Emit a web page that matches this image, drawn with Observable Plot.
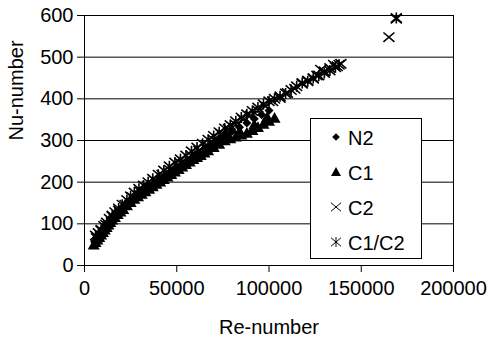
<!DOCTYPE html>
<html><head><meta charset="utf-8">
<script src="https://cdn.jsdelivr.net/npm/d3@7"></script>
<script src="https://cdn.jsdelivr.net/npm/@observablehq/plot@0.6"></script>
<style>
html,body{margin:0;padding:0;background:#fff;}
#chart{position:relative;width:491px;height:338px;}
</style>
</head><body><div id="chart"></div>
<script>
// ---- data ----
const xTicks = [0, 50000, 100000, 150000, 200000];
const yTicks = [0, 100, 200, 300, 400, 500, 600];
const xLabel = "Re-number";
const yLabel = "Nu-number";
const seriesNames = ["N2", "C1", "C2", "C1/C2"];

const n2Re = [5500,7000,8500,10000,12000,14000,16000,18000,20000,23000,26000,29000,32000,35000,38000,41000,44000,47000,50000,53000,56000,59000,62000,65000,68000,71000,74000,77000,80000,84000,88000,92000,96000,100000];
const n2Nu = [58,68,78,88,100,112,122,130,138,150,160,170,180,190,199,208,218,226,236,244,253,262,270,280,288,297,305,314,322,332,342,352,362,372];

const c1Re = [5000,6000,7000,8000,9000,10000,11000,12000,13000,14000,15000,16500,18000,19500,21000,23000,25000,27000,29000,31000,33000,35000,37000,39000,41000,43000,45000,47000,49000,51000,53000,55000,57000,59000,61000,63000,65000,67000,70000,73000,76000,79000,82000,85000,88000,91000,94000,97000,100000,103000,
              8500,13500,22000,30000,40000,50000,60000,68000,76000,84000,92000,99000];
const c1Nu = [50,56,62,68,74,80,86,92,98,104,110,116,123,129,135,144,152,160,166,172,178,184,190,196,201,207,213,219,225,231,237,243,249,255,260,265,271,276,284,292,300,305,309,314,318,325,332,340,347,354,
              80,106,146,176,206,234,264,288,312,322,338,356];

const c2Re = [6500,9000,11500,15000,18500,22000,26000,30000,34000,38000,42000,46000,52000,58000,62000,66000,70000,74000,78000,82000,86000,90000,94000,98000,102000,106000,110000,114000,118000,121000,124000,126000,128000,130000,133000,135000,137000,139000,165000,169000];
const c2Nu = [66,84,98,118,132,146,164,178,190,204,218,230,246,264,276,290,302,316,328,338,350,360,372,382,394,402,414,424,436,444,448,456,470,466,474,482,478,484,548,592];

const c12Re = [6000,7500,9000,10500,12000,13500,15000,16500,18500,20500,23000,25000,27000,29500,32000,34500,37000,40000,43000,46000,49000,52000,55000,58000,61000,64000,67000,70000,73000,76000,79000,82000,85000,88000,91000,94000,97000,100000,103000,106000,109000,112000,115000,118000,121000,124000,127000,130000,133000,136000,138000,169000];
const c12Nu = [72,78,86,95,103,112,120,128,137,146,157,166,175,184,192,200,208,218,228,238,247,255,264,274,283,292,302,311,320,329,337,346,355,363,371,379,387,394,400,406,413,421,430,438,442,450,456,462,468,476,482,594];

// ---- symbols ----
const sc = size => Math.sqrt(size / Math.PI);
const symDiamond = {draw(c, size){ const s = sc(size); c.moveTo(0,-s); c.lineTo(s,0); c.lineTo(0,s); c.lineTo(-s,0); c.closePath(); }};
const symTriangle = {draw(c, size){ const s = sc(size); c.moveTo(0,-s); c.lineTo(s,s*0.8); c.lineTo(-s,s*0.8); c.closePath(); }};
const symTimes = {draw(c, size){ const s = sc(size); c.moveTo(-s,-s*0.85); c.lineTo(s,s*0.85); c.moveTo(s,-s*0.85); c.lineTo(-s,s*0.85); }};
const symStar = {draw(c, size){ const s = sc(size); c.moveTo(-s,-s*0.85); c.lineTo(s,s*0.85); c.moveTo(s,-s*0.85); c.lineTo(-s,s*0.85); c.moveTo(0,-s); c.lineTo(0,s); }};

const toRows = (re, nu) => re.map((r, i) => ({re: r, nu: nu[i]}));
const series = [
  {name: seriesNames[0], rows: toRows(n2Re, n2Nu), sym: symDiamond, r: 4.5, lr: 3.8, fill: "#000", stroke: "none"},
  {name: seriesNames[1], rows: toRows(c1Re, c1Nu), sym: symTriangle, r: 6, lr: 5, fill: "#000", stroke: "none"},
  {name: seriesNames[2], rows: toRows(c2Re, c2Nu), sym: symTimes, r: 5.5, lr: 5, fill: "none", stroke: "#000"},
  {name: seriesNames[3], rows: toRows(c12Re, c12Nu), sym: symStar, r: 5.5, lr: 5, fill: "none", stroke: "#000"}
];

const W = 491, H = 338;
const chart = Plot.plot({
  width: W, height: H,
  marginLeft: 84, marginRight: 38, marginTop: 15, marginBottom: 73,
  style: {fontFamily: "'Liberation Sans', Arial, sans-serif", fontSize: "20px", background: "#fff", color: "#000"},
  x: {domain: [0, 200000], ticks: xTicks, tickSize: 7, tickPadding: 8, tickFormat: d => String(d), label: null},
  y: {domain: [0, 600], ticks: yTicks, tickSize: 7, tickPadding: 4, label: null},
  marks: [
    Plot.ruleY(yTicks, {stroke: "#000", strokeWidth: 1}),
    Plot.ruleX([0, 200000], {stroke: "#000", strokeWidth: 1}),
    ...series.map(s => Plot.dot(s.rows, {x: "re", y: "nu", symbol: s.sym, r: s.r, fill: s.fill, stroke: s.stroke, strokeWidth: 1.6})),
    Plot.text([xLabel], {text: d => d, frameAnchor: "bottom", dy: 62, lineAnchor: "middle", fontSize: 20}),
    Plot.text([yLabel], {text: d => d, frameAnchor: "left", dx: -68, rotate: -90, lineAnchor: "middle", fontSize: 20})
  ]
});
document.getElementById("chart").appendChild(chart);

// ---- legend (inside plot area) ----
const svg = d3.select(chart);
const lg = svg.append("g");
lg.append("rect").attr("x", 310.5).attr("y", 118.5).attr("width", 111).attr("height", 140)
  .attr("fill", "#fff").attr("stroke", "#000");
series.forEach((s, i) => {
  const base = 145 + i * 35;
  lg.append("path")
    .attr("d", d3.symbol().type(s.sym).size(Math.PI * s.lr ** 2)())
    .attr("transform", `translate(336,${base - 8})`)
    .attr("fill", s.fill).attr("stroke", s.stroke).attr("stroke-width", 1);
  lg.append("text").attr("x", 348).attr("y", base).text(s.name)
    .attr("text-anchor", "start")
    .attr("font-family", "'Liberation Sans', Arial, sans-serif")
    .attr("font-size", 20).attr("fill", "#000");
});
</script>
</body></html>
